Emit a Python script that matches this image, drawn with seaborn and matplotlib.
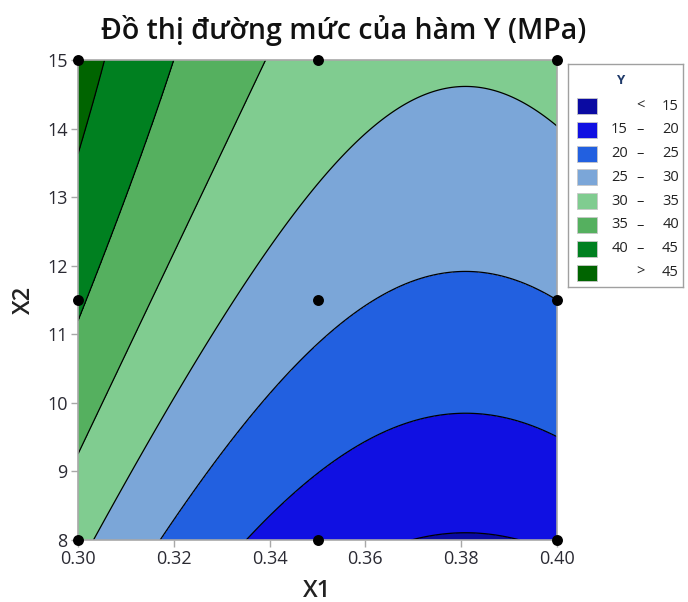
import numpy as np
import pandas as pd
import seaborn as sns
import matplotlib
matplotlib.use("Agg")
import matplotlib.pyplot as plt
from matplotlib.patches import Rectangle

# ---- data: design points (face-centred 3x3 design) and their responses ----
x1_levels = [0.30, 0.35, 0.40]
x2_levels = [8.0, 11.5, 15.0]
y_at_x2_8 = [31.3, 17.1, 15.6]
y_at_x2_11_5 = [40.7, 26.5, 25.0]
y_at_x2_15 = [47.2, 33.0, 31.5]

contour_levels = [15, 20, 25, 30, 35, 40, 45]
band_low = ["", "15", "20", "25", "30", "35", "40", ""]
band_high = ["15", "20", "25", "30", "35", "40", "45", "45"]
band_sign = ["<", "–", "–", "–", "–", "–", "–", ">"]
band_colors = ["#0a0aa2", "#1010e2", "#2260e0", "#7ba6d8",
               "#80cc90", "#55b05f", "#008020", "#006400"]

x_ticks = [0.30, 0.32, 0.34, 0.36, 0.38, 0.40]
x_tick_labels = ["0.30", "0.32", "0.34", "0.36", "0.38", "0.40"]
y_ticks = [8, 9, 10, 11, 12, 13, 14, 15]

# ---- long table of design points ----
rows = []
for x2, ys in zip(x2_levels, [y_at_x2_8, y_at_x2_11_5, y_at_x2_15]):
    for x1, yv in zip(x1_levels, ys):
        rows.append({"X1": x1, "X2": x2, "Y": yv})
design = pd.DataFrame(rows)

# ---- full quadratic response-surface fit (coded units) ----
def coded(df_x1, df_x2):
    a = (np.asarray(df_x1) - 0.35) / 0.05
    b = (np.asarray(df_x2) - 11.5) / 3.5
    return np.column_stack([np.ones_like(a), a, b, a * a, b * b, a * b])

coef, *_ = np.linalg.lstsq(coded(design.X1, design.X2), design.Y.values, rcond=None)

gx = np.linspace(min(x1_levels), max(x1_levels), 400)
gy = np.linspace(min(x2_levels), max(x2_levels), 400)
GX, GY = np.meshgrid(gx, gy)
GZ = (coded(GX.ravel(), GY.ravel()) @ coef).reshape(GX.shape)

# ---- figure ----
sns.set_theme(style="white")
plt.rcParams["font.family"] = ["Open Sans", "DejaVu Sans"]

fig = plt.figure(figsize=(6.88, 6.02), dpi=100)
ax = fig.add_axes([78 / 688, 1 - 540 / 602, 479 / 688, 480 / 602])

fill_levels = [-1e9] + contour_levels + [1e9]
ax.contourf(GX, GY, GZ, levels=fill_levels, colors=band_colors)
ax.contour(GX, GY, GZ, levels=contour_levels, colors="black", linewidths=0.9)

sns.scatterplot(data=design, x="X1", y="X2", color="black", s=62,
                edgecolor="black", linewidth=0, ax=ax, clip_on=False, zorder=10,
                legend=False)

ax.set_xlim(0.30, 0.40)
ax.set_ylim(8, 15)
ax.set_xticks(x_ticks)
ax.set_xticklabels(x_tick_labels)
ax.set_yticks(y_ticks)
for s in ax.spines.values():
    s.set_color("#a8a8a8")
    s.set_linewidth(1.2)
ax.tick_params(direction="out", length=5, width=1, color="#a8a8a8",
               labelcolor="#2a2a33", labelsize=13, pad=2.5)
ax.tick_params(axis="x", bottom=True)
ax.tick_params(axis="y", left=True)
ax.set_xlabel("X1", fontsize=17, fontweight="semibold", color="#222222")
ax.set_ylabel("X2", fontsize=17, fontweight="semibold", color="#222222")
ax.xaxis.set_label_coords(0.5, (540 - 591) / 480)
ax.xaxis.label.set_va("center")
ax.yaxis.set_label_coords((24 - 78) / 479, 0.5)
ax.yaxis.label.set_va("center")

fig.text(0.5, 1 - 31 / 602, "Đồ thị đường mức của hàm Y (MPa)",
         ha="center", va="center", fontsize=20.5, fontweight="semibold", color="#111111")

# ---- legend panel ----
lax = fig.add_axes([568 / 688, 1 - 287 / 602, 115 / 688, 223 / 602])
lax.set_xlim(0, 115)
lax.set_ylim(223, 0)
lax.set_xticks([])
lax.set_yticks([])
for s in lax.spines.values():
    s.set_color("#a0a0a0")
    s.set_linewidth(1.0)
lax.text(52, 17, "Y", ha="center", va="center", fontsize=9.5,
         fontweight="bold", color="#1f3a6a")
row_y = np.arange(len(band_colors)) * 23.8 + 42
for yy, c, lo, sg, hi in zip(row_y, band_colors, band_low, band_sign, band_high):
    lax.add_patch(Rectangle((9, yy - 8), 20, 16, facecolor=c, edgecolor="#c8c8c8", lw=0.6))
    lax.text(60, yy, lo, ha="right", va="center", fontsize=10.5, color="#222222")
    lax.text(72, yy, sg, ha="center", va="center", fontsize=10.5, color="#222222")
    lax.text(111, yy, hi, ha="right", va="center", fontsize=10.5, color="#222222")

fig.savefig("out.png", dpi=100)
